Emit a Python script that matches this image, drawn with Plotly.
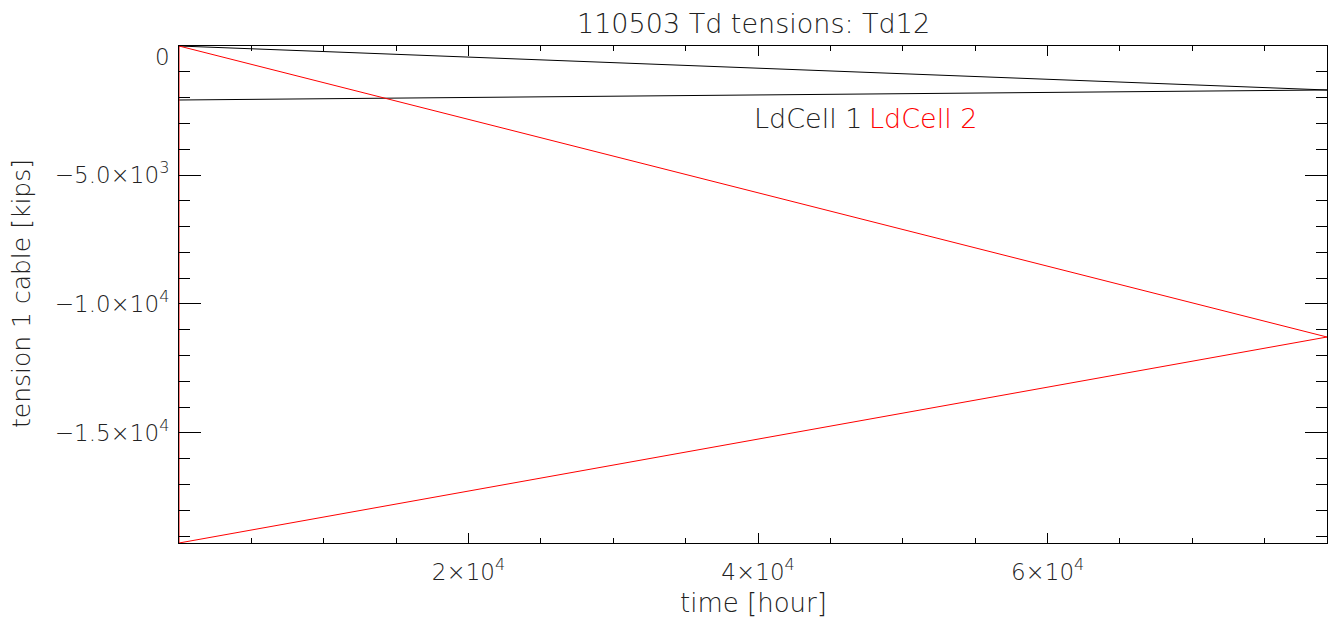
import plotly.graph_objects as go

# data
time_ld1 = [0, 79300, 0]
tension_ld1 = [0, -1705, -2093]
time_ld2 = [0, 79300, 0, 0]
tension_ld2 = [0, -11280, -19264, 0]

x_tickvals = [20000, 40000, 60000]
x_ticktext = ["2×10<sup>4</sup>", "4×10<sup>4</sup>", "6×10<sup>4</sup>"]
y_tickvals = [0, -5000, -10000, -15000]
y_ticktext = ["", "−5.0×10<sup>3</sup>", "−1.0×10<sup>4</sup>", "−1.5×10<sup>4</sup>"]

FONT = "DejaVu Sans"
TXT = "#222"

fig = go.Figure()
fig.add_trace(go.Scatter(x=time_ld1, y=tension_ld1, mode="lines",
                         line=dict(color="black", width=1), name="LdCell 1"))
fig.add_trace(go.Scatter(x=time_ld2, y=tension_ld2, mode="lines",
                         line=dict(color="#ff0000", width=1), name="LdCell 2"))

OFF = 8  # default page body margin
W, H = 1336 - OFF, 624 - OFF
L, T = 179 - OFF, 46 - OFF
R = W - (1327 - OFF)
B = H - (543 - OFF)
PW, PH = W - L - R, H - T - B

def px(xp):
    return (xp - OFF - L) / PW

def py(yp):
    return (H - B - (yp - OFF)) / PH

fig.update_layout(
    width=W, height=H,
    margin=dict(l=L, r=R, t=T, b=B, autoexpand=False),
    paper_bgcolor="white", plot_bgcolor="white",
    showlegend=False,
    font=dict(family=FONT, size=20, color=TXT, weight=300),
)
fig.update_xaxes(
    range=[0, 79300], showgrid=False, zeroline=False, automargin=False,
    showline=True, linecolor="black", linewidth=1, mirror="allticks",
    ticks="inside", ticklen=10, tickcolor="black", tickwidth=1,
    tickvals=x_tickvals, ticktext=x_ticktext, ticklabelstandoff=8,
    tickfont=dict(size=23, family=FONT, color=TXT, weight=300),
    minor=dict(dtick=5000, ticks="inside", ticklen=5, tickcolor="black", tickwidth=1, showgrid=False),
)
fig.update_yaxes(
    range=[-19264, 0], showgrid=False, zeroline=False, automargin=False,
    showline=True, linecolor="black", linewidth=1, mirror="allticks",
    ticks="inside", ticklen=22, tickcolor="black", tickwidth=1,
    tickvals=y_tickvals, ticktext=y_ticktext, ticklabelstandoff=4,
    tickfont=dict(size=23, family=FONT, color=TXT, weight=300),
    minor=dict(dtick=1000, ticks="inside", ticklen=11, tickcolor="black", tickwidth=1, showgrid=False),
)

def ann(text, x, y, size, color=TXT, xanchor="center", yanchor="middle", angle=0):
    fig.add_annotation(x=x, y=y, xref="paper", yref="paper", text=text, showarrow=False,
                       xanchor=xanchor, yanchor=yanchor, textangle=angle,
                       font=dict(size=size, family=FONT, color=color, weight=300))

ann("110503 Td tensions: Td12", px(753), py(24), 27)
ann("time [hour]", px(753), py(603), 26)
ann("tension 1 cable [kips]", px(21), py(294), 25, angle=-90)
ann("0", px(172), py(57), 23, xanchor="right")
ann("LdCell 1", px(864), py(119), 27, xanchor="right")
ann("LdCell 2", px(867), py(119), 27, color="#ff0000", xanchor="left")

fig.write_html("out.html")
